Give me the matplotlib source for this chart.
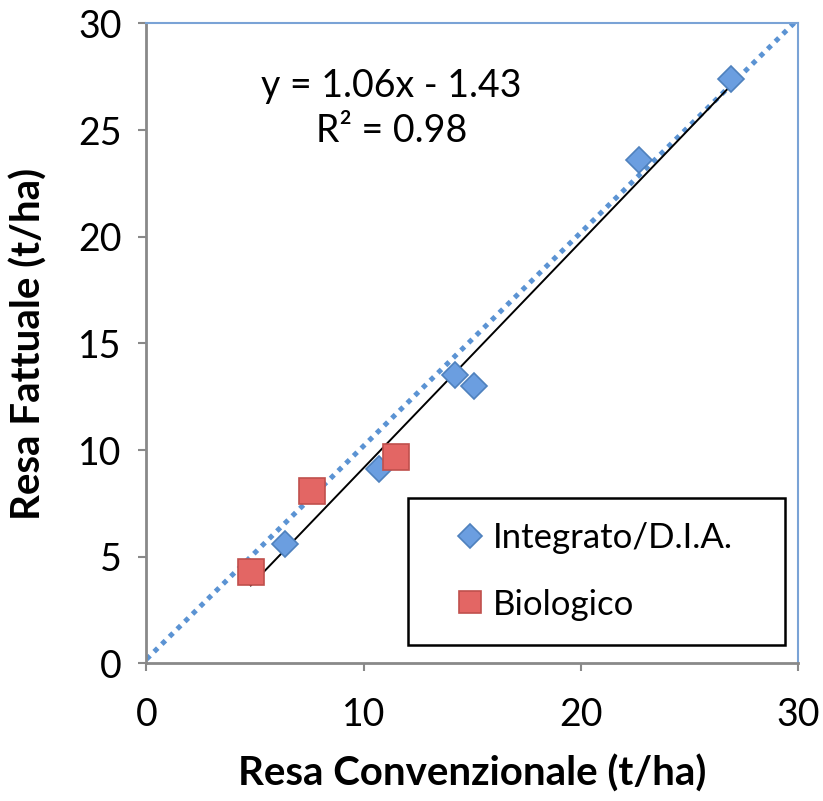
import matplotlib
matplotlib.use('Agg')
import matplotlib.pyplot as plt
import numpy as np

plt.rcParams['font.family'] = ['Lato', 'DejaVu Sans']

# data
integrato_x = [6.4, 10.7, 14.2, 15.1, 22.7, 26.9]
integrato_y = [5.6, 9.1, 13.5, 13.0, 23.6, 27.4]
biologico_x = [4.8, 7.6, 11.5]
biologico_y = [4.3, 8.1, 9.7]
slope, intercept, r2 = 1.06, -1.43, 0.98
x_ticks = [0, 10, 20, 30]
y_ticks = [0, 5, 10, 15, 20, 25, 30]

fig = plt.figure(figsize=(8.23, 8.01), dpi=100)
ax = fig.add_axes([0.178, 0.1717, 0.7916, 0.799])

gray = '#898989'
blue_border = '#7aa3d6'

# 1:1 line
ax.plot([0, 30.5], [0.2, 30.7], color='#5b93d3', lw=3.6, dashes=(1, 1.15),
        dash_capstyle='butt', zorder=2, clip_on=True)

# linear trend over all points
all_x = integrato_x + biologico_x
xs = np.array([min(all_x), max(all_x)])
ax.plot(xs, slope * xs + intercept, color='black', lw=1.4, zorder=3)

ax.plot(integrato_x, integrato_y, linestyle='none', marker='D', ms=13,
        mfc='#6b9ee0', mec='#4f81bd', mew=1.2, label='Integrato/D.I.A.', zorder=4)
ax.plot(biologico_x, biologico_y, linestyle='none', marker='s', ms=19,
        mfc='#e36664', mec='#c0504d', mew=1.2, label='Biologico', zorder=4)

ax.set_xlim(0, 30)
ax.set_ylim(0, 30)
ax.set_xticks(x_ticks)
ax.set_yticks(y_ticks)
ax.tick_params(labelsize=27, length=6, width=1.5, color=gray)
ax.tick_params(axis='x', pad=18)
ax.tick_params(axis='y', pad=12)
for side in ['left', 'bottom']:
    ax.spines[side].set_color(gray)
    ax.spines[side].set_linewidth(2)
for side in ['top', 'right']:
    ax.spines[side].set_color(blue_border)
    ax.spines[side].set_linewidth(1.5)

ax.set_xlabel('Resa Convenzionale (t/ha)', fontsize=29, fontweight='bold', labelpad=16)
ax.set_ylabel('Resa Fattuale (t/ha)', fontsize=29, fontweight='bold', labelpad=22)

ax.text(0.376, 0.867, 'y = %.2fx - %.2f\nR² = %.2f' % (slope, -intercept, r2),
        transform=ax.transAxes, ha='center', va='center', fontsize=27, linespacing=1.3)

leg = ax.legend(loc='lower left', bbox_to_anchor=(0.401, 0.029, 0.579, 0.228),
                mode='expand', fontsize=25, frameon=True, fancybox=False,
                labelspacing=1.0, borderpad=0.7, handlelength=2.2, handletextpad=-0.45,
                borderaxespad=0, markerscale=1.0)
for h in leg.legend_handles:
    h.set_markersize(h.get_markersize() * (0.95 if h.get_marker() == 'D' else 0.8))
leg.get_frame().set_edgecolor('black')
leg.get_frame().set_linewidth(1.8)
leg.get_frame().set_alpha(1)

fig.savefig('out.png', dpi=100)
